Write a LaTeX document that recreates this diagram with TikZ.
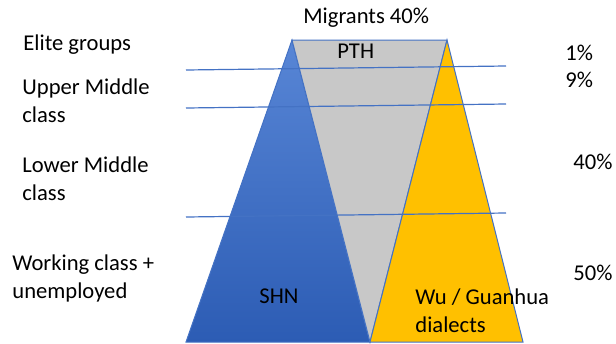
\documentclass[tikz,border=0pt]{standalone}
\usepackage{fontspec}
\setmainfont{Carlito}

\definecolor{shntop}{RGB}{88,134,214}
\definecolor{shnbottom}{RGB}{44,92,180}
\definecolor{pthgray}{RGB}{200,200,200}
\definecolor{wuyellow}{RGB}{255,192,0}
\definecolor{edgeblue}{RGB}{68,114,196}

\begin{document}
\begin{tikzpicture}[x=0.5pt, y=-0.5pt,
    tag/.style={anchor=base west, inner sep=0pt, align=left, font=\fontsize{11.3}{14}\selectfont},
    edge/.style={draw=edgeblue, line width=0.5pt},
    band/.style={draw=edgeblue, line width=0.6pt}]
    \useasboundingbox (0,0) rectangle (616,343);

    % Corners of the three triangles
    \coordinate (topL) at (292,40);
    \coordinate (topR) at (447,40);
    \coordinate (baseL) at (186,342);
    \coordinate (baseM) at (370,342);
    \coordinate (baseR) at (523,342);

    % Language triangles
    \path [edge, top color=shntop, bottom color=shnbottom] (topL) -- (baseM) -- (baseL) -- cycle;
    \path [edge, fill=pthgray] (topL) -- (topR) -- (baseM) -- cycle;
    \path [edge, fill=wuyellow] (topR) -- (baseR) -- (baseM) -- cycle;

    % Class boundaries
    \coordinate (b1l) at (186,70);  \coordinate (b1r) at (506,66);
    \coordinate (b2l) at (186,108); \coordinate (b2r) at (506,104);
    \coordinate (b3l) at (186,217); \coordinate (b3r) at (506,213);
    \draw [band] (b1l) -- (b1r);
    \draw [band] (b2l) -- (b2r);
    \draw [band] (b3l) -- (b3r);

    % Language labels (two-line ones sit on their last line)
    \node [tag] (migrants) at (303,23) {Migrants 40\%};
    \node [tag] (pth) at (337,58) {PTH};
    \node [tag] (shn) at (259,303) {SHN};
    \node [tag] (wu) at (415,332) {Wu / Guanhua\\dialects};

    % Classes
    \node [tag] (elite) at (23,50) {Elite groups};
    \node [tag] (upper) at (22,122) {Upper Middle\\class};
    \node [tag] (lower) at (22,200) {Lower Middle\\class};
    \node [tag] (working) at (12,298) {Working class +\\unemployed};

    % Shares
    \node [tag] (p1) at (565,60) {1\%};
    \node [tag] (p9) at (565,87) {9\%};
    \node [tag] (p40) at (573,169) {40\%};
    \node [tag] (p50) at (573,280) {50\%};
\end{tikzpicture}
\end{document}
